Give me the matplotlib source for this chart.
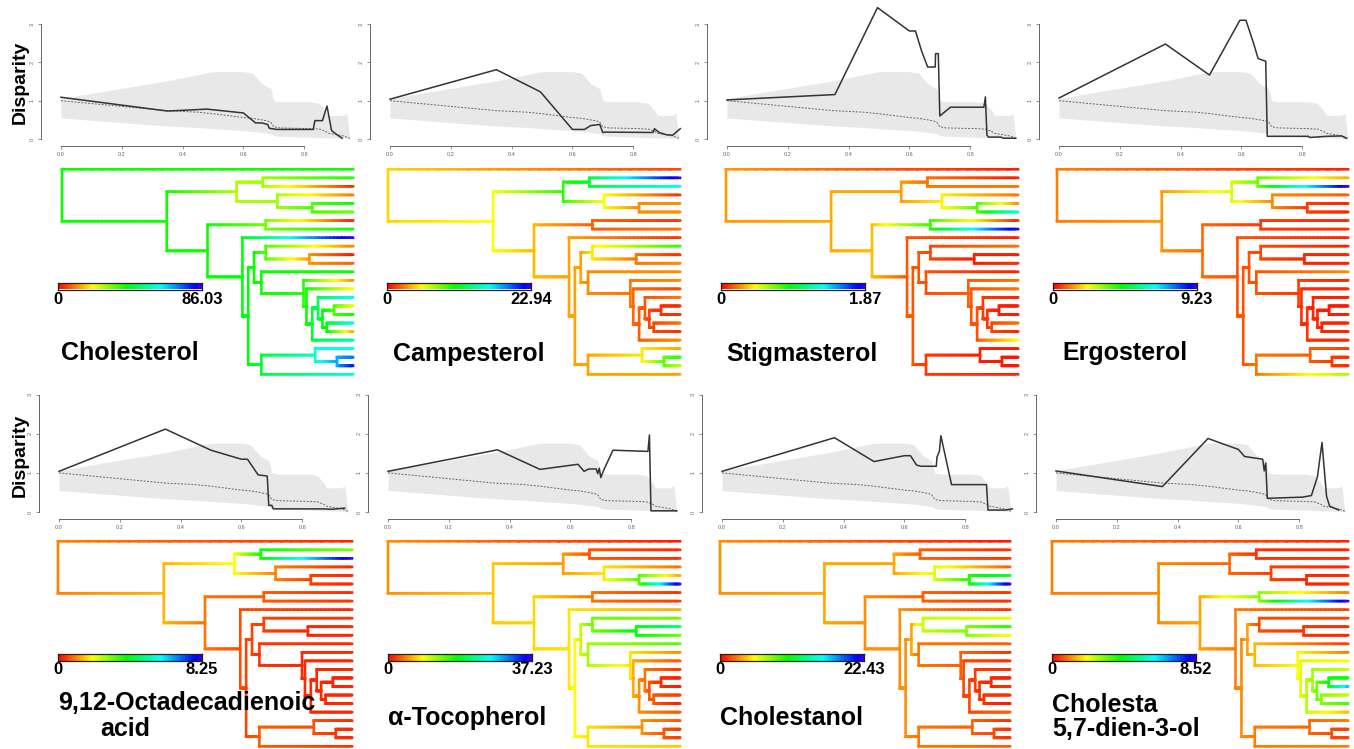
import matplotlib
matplotlib.use("Agg")
import matplotlib.pyplot as plt
import numpy as np
from matplotlib.collections import LineCollection
from matplotlib.colors import hsv_to_rgb, ListedColormap

plt.rcParams['font.family'] = ['Liberation Sans', 'DejaVu Sans']

W, H = 1354, 749

# ---------------- data ----------------
compounds = ["Cholesterol", "Campesterol", "Stigmasterol", "Ergosterol",
             "9,12-Octadecadienoic acid", "α-Tocopherol", "Cholestanol",
             "Cholesta 5,7-dien-3-ol"]
max_labels = ["86.03", "22.94", "1.87", "9.23", "8.25", "37.23", "22.43", "8.52"]
max_values = [86.03, 22.94, 1.87, 9.23, 8.25, 37.23, 22.43, 8.52]

# tree: tips 0-24, internal nodes 25-48 (25 = root)
children = {25: [0, 26], 26: [27, 31], 27: [28, 29], 28: [1, 2], 29: [3, 30],
            30: [4, 5], 31: [32, 33], 32: [6, 7], 33: [8, 34], 34: [35, 46],
            35: [36, 38], 36: [9, 37], 37: [10, 11], 38: [12, 39], 39: [13, 40],
            40: [14, 41], 41: [42, 20], 42: [15, 43], 43: [44, 45], 44: [16, 17],
            45: [18, 19], 46: [47, 24], 47: [21, 48], 48: [22, 23]}
node_depth = [0.0, 0.36, 0.60, 0.69, 0.74, 0.86, 0.50, 0.70, 0.62, 0.64, 0.66, 0.70,
              0.85, 0.685, 0.83, 0.84, 0.86, 0.88, 0.895, 0.935, 0.91, 0.685, 0.87, 0.945]

tip_values = {
    "Cholesterol": [40, 38, 3, 10, 40, 32, 2, 40, 86, 10, 2, 8, 40, 12, 20, 62, 22, 40, 60, 14, 55, 60, 72, 80, 58],
    "Campesterol": [1.5, 22.9, 16, 1.0, 3.0, 3.0, 1.0, 2.5, 1.0, 10, 1.0, 3.0, 3.0, 3.0, 1.5, 2.5, 0.8, 1.0, 2.5, 1.0, 3.0, 3.5, 10, 7, 3.5],
    "Stigmasterol": [0.05, 0.05, 0.2, 0.2, 0.25, 1.3, 0.05, 1.87, 0.05, 0.2, 0.05, 0.08, 0.06, 0.2, 0.2, 0.06, 0.04, 0.05, 0.2, 0.06, 0.45, 0.04, 0.03, 0.04, 0.06],
    "Ergosterol": [0.3, 1.5, 9.23, 0.8, 0.3, 0.3, 0.3, 0.4, 0.3, 0.3, 0.3, 0.3, 1.2, 0.3, 0.3, 0.3, 0.2, 0.3, 0.3, 0.3, 0.3, 0.5, 0.4, 0.4, 3.0],
    "9,12-Octadecadienoic acid": [0.3, 3.0, 8.25, 0.3, 0.3, 0.3, 0.3, 0.4, 0.3, 0.4, 0.3, 0.3, 0.3, 0.3, 0.3, 0.3, 0.2, 0.3, 0.3, 0.3, 0.3, 0.3, 0.3, 0.3, 0.4],
    "α-Tocopherol": [1.0, 1.5, 1.5, 4, 6, 37.23, 1.5, 2, 6, 14, 22, 14, 15, 5, 3, 2, 1, 1, 2, 1, 3, 3, 2, 2, 7],
    "Cholestanol": [0.5, 1, 1, 2, 12, 22.43, 1, 1, 1, 6, 10, 5, 2, 1, 1, 1, 0.5, 1, 1, 0.5, 2, 1, 1, 1, 2],
    "Cholesta 5,7-dien-3-ol": [0.3, 0.3, 0.3, 0.3, 0.3, 0.3, 1.0, 8.52, 0.5, 0.5, 0.3, 0.3, 0.5, 1.0, 2.0, 2.5, 4.0, 6.5, 2.5, 3.5, 1.5, 1.0, 0.5, 0.5, 1.0],
}
node_values = {
    "Cholesterol": [40, 40, 27, 28, 28, 35, 40, 32, 42, 42, 40, 35, 12, 40, 38, 40, 45, 48, 42, 35, 42, 45, 58, 68],
    "Campesterol": [4.6, 5.5, 10, 12, 5.5, 3.0, 4.0, 2.0, 3.5, 3.5, 3.5, 5.0, 2.5, 3.0, 2.5, 2.2, 2.0, 1.8, 1.5, 1.0, 1.5, 3.5, 5.0, 9.0],
    "Stigmasterol": [0.27, 0.3, 0.28, 0.2, 0.42, 0.75, 0.33, 0.8, 0.15, 0.15, 0.15, 0.12, 0.05, 0.14, 0.16, 0.15, 0.14, 0.1, 0.09, 0.05, 0.12, 0.1, 0.05, 0.04],
    "Ergosterol": [1.1, 1.3, 2.5, 3.5, 1.2, 0.5, 0.9, 0.5, 0.7, 0.7, 0.7, 0.6, 0.3, 0.7, 0.5, 0.4, 0.4, 0.3, 0.3, 0.2, 0.3, 1.0, 0.8, 0.5],
    "9,12-Octadecadienoic acid": [1.0, 1.4, 2.0, 3.8, 1.0, 0.5, 0.9, 0.7, 0.6, 0.5, 0.5, 0.5, 0.3, 0.4, 0.3, 0.3, 0.3, 0.3, 0.3, 0.25, 0.3, 0.7, 0.6, 0.4],
    "α-Tocopherol": [5, 7, 5.5, 3, 8, 15, 7.5, 4, 8, 9, 11, 14, 18, 12, 8, 6, 5, 4, 3, 1.5, 3, 8, 5, 3],
    "Cholestanol": [3, 3.5, 3.5, 2, 6, 10, 3, 2, 3, 3, 3.5, 6.5, 8, 2.5, 2, 1.5, 1.5, 1.2, 1, 0.8, 1, 2.5, 2, 1.5],
    "Cholesta 5,7-dien-3-ol": [1.0, 1.1, 0.8, 0.4, 0.5, 0.3, 1.3, 3.0, 1.0, 1.1, 1.3, 0.6, 0.4, 1.5, 2.0, 2.3, 2.6, 2.8, 3.2, 4.0, 3.0, 1.0, 0.8, 0.6],
}

# simulated disparity through time (shared envelope + median)
sim_time = [0, 0.35, 0.45, 0.5, 0.6, 0.63, 0.66, 0.68, 0.69, 0.7, 0.72, 0.82, 0.85, 0.87, 0.88, 0.93, 0.94, 0.95]
sim_upper = [1.06, 1.52, 1.68, 1.76, 1.76, 1.72, 1.45, 1.35, 1.32, 1.0, 0.97, 0.97, 0.93, 0.75, 0.62, 0.62, 0.68, 0.02]
sim_lower = [0.55, 0.34, 0.3, 0.27, 0.22, 0.2, 0.17, 0.15, 0.14, 0.09, 0.07, 0.05, 0.04, 0.03, 0.03, 0.02, 0.01, 0.0]
sim_median = [1.0, 0.74, 0.7, 0.66, 0.56, 0.54, 0.5, 0.47, 0.44, 0.32, 0.29, 0.27, 0.26, 0.2, 0.15, 0.08, 0.05, 0.02]

# observed disparity through time
obs_time = {
    "Cholesterol": [0, 0.35, 0.48, 0.6, 0.64, 0.66, 0.68, 0.685, 0.71, 0.83, 0.835, 0.86, 0.875, 0.89, 0.91, 0.925],
    "Campesterol": [0, 0.35, 0.495, 0.6, 0.64, 0.66, 0.69, 0.7, 0.71, 0.865, 0.87, 0.885, 0.91, 0.93, 0.955],
    "Stigmasterol": [0, 0.355, 0.495, 0.6, 0.62, 0.64, 0.66, 0.685, 0.686, 0.695, 0.7, 0.735, 0.845, 0.85, 0.855, 0.86, 0.9, 0.91, 0.95],
    "Ergosterol": [0, 0.35, 0.495, 0.595, 0.615, 0.64, 0.655, 0.68, 0.685, 0.82, 0.825, 0.88, 0.93, 0.945],
    "9,12-Octadecadienoic acid": [0, 0.35, 0.5, 0.6, 0.62, 0.655, 0.685, 0.69, 0.7, 0.705, 0.87, 0.9, 0.94],
    "α-Tocopherol": [0, 0.36, 0.5, 0.625, 0.645, 0.66, 0.685, 0.69, 0.695, 0.7, 0.71, 0.74, 0.855, 0.86, 0.865, 0.95],
    "Cholestanol": [0, 0.37, 0.5, 0.6, 0.62, 0.64, 0.655, 0.705, 0.707, 0.715, 0.72, 0.755, 0.87, 0.875, 0.93, 0.955],
    "Cholesta 5,7-dien-3-ol": [0, 0.35, 0.5, 0.6, 0.62, 0.68, 0.685, 0.69, 0.695, 0.81, 0.84, 0.86, 0.875, 0.89, 0.9, 0.93],
}
obs_disp = {
    "Cholesterol": [1.09, 0.73, 0.78, 0.68, 0.42, 0.42, 0.38, 0.28, 0.25, 0.25, 0.48, 0.48, 0.86, 0.22, 0.1, 0.02],
    "Campesterol": [1.04, 1.81, 1.23, 0.25, 0.25, 0.35, 0.38, 0.17, 0.18, 0.17, 0.27, 0.17, 0.11, 0.1, 0.27],
    "Stigmasterol": [1.02, 1.16, 3.43, 2.82, 2.82, 2.3, 1.88, 1.88, 2.23, 2.23, 0.6, 0.83, 0.83, 1.1, 0.1, 0.05, 0.05, 0.02, 0.02],
    "Ergosterol": [1.07, 2.48, 1.67, 3.1, 3.1, 2.5, 2.1, 2.03, 0.07, 0.07, 0.04, 0.07, 0.08, 0.02],
    "9,12-Octadecadienoic acid": [1.04, 2.12, 1.58, 1.35, 1.35, 0.95, 0.92, 0.17, 0.17, 0.08, 0.08, 0.07, 0.1],
    "α-Tocopherol": [1.04, 1.59, 1.09, 1.22, 1.04, 1.1, 1.1, 0.98, 1.12, 0.88, 1.08, 1.58, 1.55, 1.97, 0.03, 0.03],
    "Cholestanol": [1.04, 1.9, 1.29, 1.44, 1.44, 1.2, 1.17, 1.17, 1.4, 1.55, 1.95, 0.7, 0.7, 0.05, 0.05, 0.08],
    "Cholesta 5,7-dien-3-ol": [1.05, 0.65, 1.88, 1.6, 1.42, 1.35, 1.05, 1.25, 0.35, 0.38, 0.42, 0.9, 1.78, 0.4, 0.15, 0.05],
}

# ---------------- layout (pixels) ----------------
dtt_x0 = [61, 390, 727, 1059, 59, 388, 722, 1056]
dtt_y0 = [139] * 4 + [512] * 4
dtt_sy = [38.3] * 4 + [39.1] * 4
dtt_sx = 304
tree_x = [(62, 353), (388, 680), (726, 1018), (1057, 1348),
          (58, 352), (388, 680), (720, 1010), (1052, 1348)]
tree_y = [(169.3, 374.3)] * 4 + [(541.3, 746.3)] * 4
cbar_x = [58, 387, 721, 1053, 58, 388, 720, 1052]
cbar_y = [286] * 4 + [657] * 4
label_lines = [[("Cholesterol", 61, 353)], [("Campesterol", 393, 354)],
               [("Stigmasterol", 726, 354)], [("Ergosterol", 1062, 353)],
               [("9,12-Octadecadienoic", 58, 703), ("acid", 100, 729)],
               [("α-Tocopherol", 388, 718)], [("Cholestanol", 720, 718)],
               [("Cholesta", 1052, 705), ("5,7-dien-3-ol", 1052, 729)]]

fig = plt.figure(figsize=(W / 100, H / 100), dpi=100)


def px_axes(x0, y0, x1, y1):
    return fig.add_axes([x0 / W, 1 - y1 / H, (x1 - x0) / W, (y1 - y0) / H])


def rainbow(f):
    return hsv_to_rgb([0.7 * min(max(f, 0), 1), 1, 1])


cmap = ListedColormap([rainbow(f) for f in np.linspace(0, 1, 256)])


def node_y(n):
    if n < 25:
        return float(n)
    return np.mean([node_y(c) for c in children[n]])


ys = [node_y(n) for n in range(49)]
depth = [1.0] * 25 + node_depth

for i, name in enumerate(compounds):
    # --- disparity through time ---
    x0, y0, sy = dtt_x0[i], dtt_y0[i], dtt_sy[i]
    ax = px_axes(x0 - 0.066 * dtt_sx, y0 - 3.5 * sy, x0 + 0.97 * dtt_sx, y0 + 0.18 * sy)
    ax.set_xlim(-0.066, 0.97)
    ax.set_ylim(-0.18, 3.5)
    ax.fill_between(sim_time, sim_lower, sim_upper, color='#e8e8e8', lw=0)
    ax.plot(sim_time, sim_median, ls=(0, (2, 1.5)), color='#666666', lw=0.7)
    ax.plot(obs_time[name], obs_disp[name], color='#333333', lw=1.1)
    for s in ['top', 'right']:
        ax.spines[s].set_visible(False)
    ax.spines['left'].set_bounds(0, 3)
    ax.spines['bottom'].set_bounds(0, 0.8)
    for s in ['left', 'bottom']:
        ax.spines[s].set_color('#666666')
        ax.spines[s].set_linewidth(0.7)
    ax.set_xticks([0, 0.2, 0.4, 0.6, 0.8])
    ax.set_xticklabels(["0.0", "0.2", "0.4", "0.6", "0.8"])
    ax.set_yticks([0, 1, 2, 3])
    ax.tick_params(labelsize=4, colors='#666666', length=2.5, width=0.5, pad=2)
    plt.setp(ax.get_yticklabels(), rotation=90, va='center')
    ax.patch.set_alpha(0)
    if i % 4 == 0:
        fig.text(20 / W, 1 - (y0 - 57) / H, "Disparity", rotation=90, fontsize=14,
                 fontweight='bold', ha='center', va='center')

    # --- tree with mapped trait ---
    tx0, tx1 = tree_x[i]
    ty0, ty1 = tree_y[i]
    tax = px_axes(tx0, ty0, tx1, ty1)
    tax.set_xlim(0, 1)
    tax.set_ylim(24, 0)
    tax.axis('off')
    vmax = max_values[i]
    val = tip_values[name] + node_values[name]
    segs, cols = [], []
    for p, kids in children.items():
        for c in kids:
            xs = np.linspace(depth[p], depth[c], 30)
            vs = np.linspace(val[p], val[c], 30)
            for k in range(29):
                segs.append([(xs[k], ys[c]), (xs[k + 1], ys[c])])
                cols.append(rainbow(0.5 * (vs[k] + vs[k + 1]) / vmax))
        ky = [ys[c] for c in kids]
        segs.append([(depth[p], min(ky)), (depth[p], max(ky))])
        cols.append(rainbow(val[p] / vmax))
    lc = LineCollection(segs, colors=cols, linewidths=1.9, capstyle='projecting')
    lc.set_clip_on(False)
    lc.set_snap(False)
    tax.add_collection(lc)

    # --- colour bar ---
    cx, cy = cbar_x[i], cbar_y[i]
    cax = px_axes(cx, cy - 3.5, cx + 144, cy + 3.5)
    cax.imshow(np.linspace(0, 1, 256)[None, :], aspect='auto', cmap=cmap)
    cax.set_xticks([])
    cax.set_yticks([])
    for s in cax.spines.values():
        s.set_linewidth(0.9)
        s.set_color('#222222')
    fig.text(cx / W, 1 - (cy + 13) / H, "0", fontsize=12, fontweight='bold',
             ha='center', va='center')
    fig.text((cx + 144) / W, 1 - (cy + 13) / H, max_labels[i], fontsize=12,
             fontweight='bold', ha='center', va='center')

    # --- compound label ---
    for txt, lx, ly in label_lines[i]:
        fig.text(lx / W, 1 - ly / H, txt, fontsize=18, fontweight='bold',
                 ha='left', va='center')

plt.savefig("out.png", dpi=100)
